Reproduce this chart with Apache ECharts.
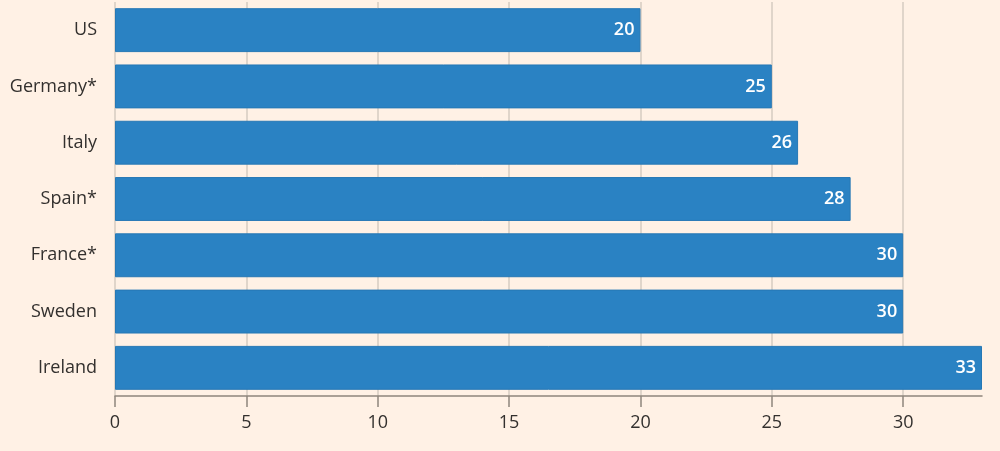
<!DOCTYPE html>
<html>
<head>
<meta charset="utf-8">
<script src="https://cdn.jsdelivr.net/npm/echarts@6/dist/echarts.min.js"></script>
<style>
html,body{margin:0;padding:0;background:#fff1e5;}
#chart{width:1000px;height:451px;}
</style>
</head>
<body>
<div id="chart"></div>
<script>
var countries = ['US', 'Germany*', 'Italy', 'Spain*', 'France*', 'Sweden', 'Ireland'];
var values = [20, 25, 26, 28, 30, 30, 33];
var xTicks = [0, 5, 10, 15, 20, 25, 30];

var chart = echarts.init(document.getElementById('chart'));
var font = '"Open Sans", Lato, sans-serif';

var option = {
    backgroundColor: '#fff1e5',
    animation: false,
    grid: { left: 115, right: 18, top: 2, bottom: 55 },
    xAxis: {
        type: 'value',
        min: 0,
        max: 33,
        interval: 5,
        axisLine: { show: true, lineStyle: { color: '#8f857c', width: 1.5 } },
        axisTick: { show: true, length: 11, customValues: xTicks, lineStyle: { color: '#8f857c', width: 1.5 } },
        axisLabel: { customValues: xTicks, margin: 18, fontSize: 18, color: '#33302e', fontFamily: font },
        splitLine: { show: true, lineStyle: { color: '#d6cbc0', width: 1.5 } }
    },
    yAxis: {
        type: 'category',
        inverse: true,
        data: countries,
        axisLine: { show: false },
        axisTick: { show: false },
        axisLabel: { margin: 18, fontSize: 18, color: '#33302e', fontFamily: font }
    },
    series: [{
        type: 'bar',
        data: values,
        barCategoryGap: '22%',
        itemStyle: { color: '#2a82c3', borderColor: '#2678b5', borderWidth: 1 },
        label: {
            show: true,
            position: 'insideRight',
            distance: 6,
            color: '#ffffff',
            fontSize: 18,
            fontWeight: 600,
            fontFamily: font
        }
    }]
};

chart.setOption(option);
</script>
</body>
</html>
